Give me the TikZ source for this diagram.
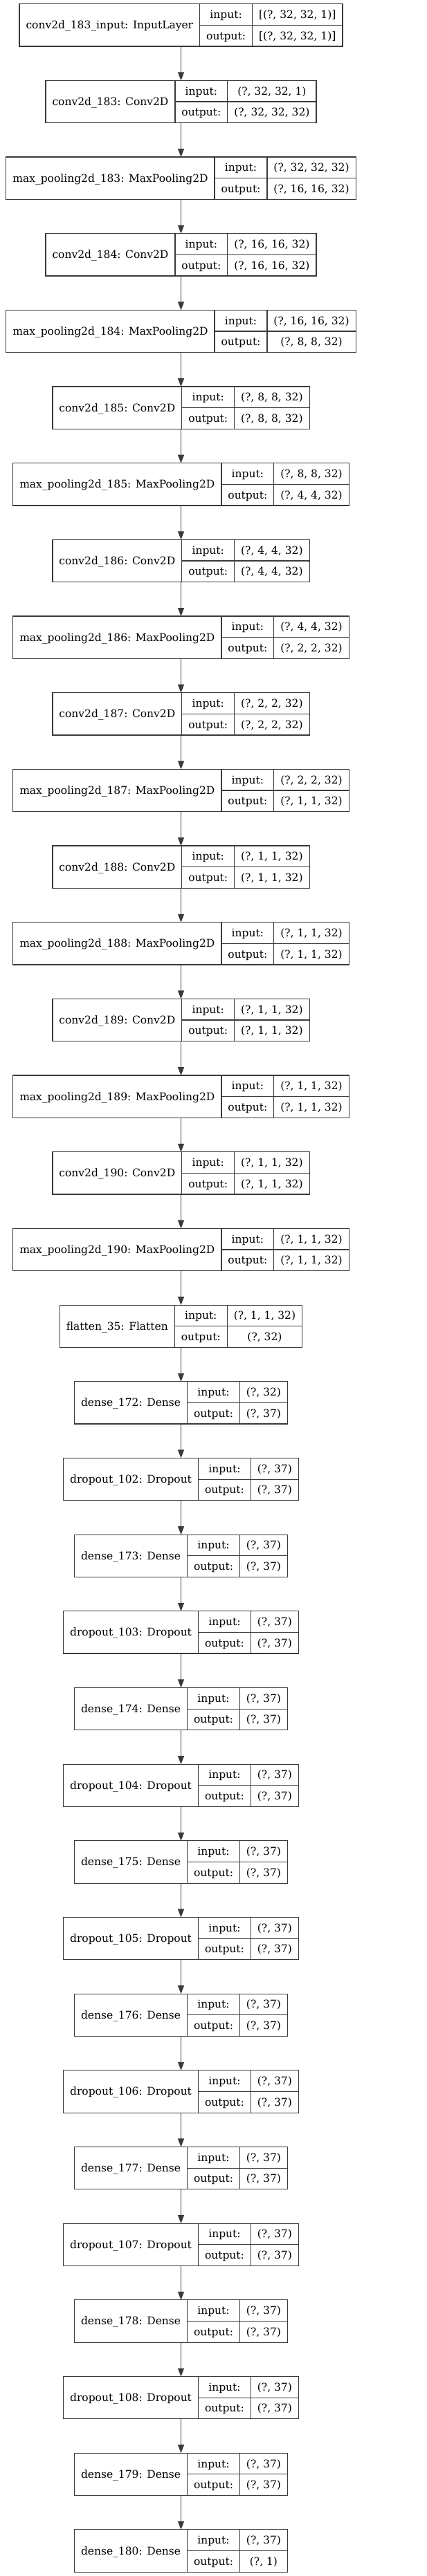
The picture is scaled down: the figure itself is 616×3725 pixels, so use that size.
\documentclass[tikz,border=0pt]{standalone}
\usepackage{fontspec}
\setmainfont{DejaVu Serif}
\usetikzlibrary{arrows.meta}

\definecolor{edgegray}{HTML}{3A3A3A}
\newcommand\lfont{\fontsize{15.5}{18}\selectfont}
\newlength\wlbl \newlength\wio \newlength\wval \newlength\wtmp \newlength\wmeas
\newlength\padx \setlength\padx{9.5pt}

% width of a text in the label font, set globally into a length
\newcommand\measure[2]{%
    \pgfinterruptpicture\settowidth\wmeas{\lfont #2}\global#1=\wmeas\endpgfinterruptpicture}

\tikzset{
    cell/.style={draw=edgegray, line width=1.2pt, inner sep=0pt, outer sep=0pt,
        anchor=north west, minimum height=30.65pt, font=\lfont,
        text height=14pt, text depth=3pt},
    lblcell/.style={cell, minimum height=61.3pt},
    link/.style={draw=edgegray, line width=1.2pt, -{Triangle[length=12pt,width=9pt]}}
}

% one layer record: name, top y, label, input shape, output shape
\newcommand\layer[5]{%
    \measure\wlbl{#3}\addtolength\wlbl{2\padx}%
    \measure\wio{output:}\addtolength\wio{2\padx}%
    \measure\wval{#4}\measure\wtmp{#5}%
    \ifdim\wtmp>\wval \wval=\wtmp\fi
    \addtolength\wval{2\padx}%
    \pgfmathsetmacro\xl{261.5-(\wlbl+\wio+\wval)/2}%
    \node[lblcell, minimum width=\wlbl] (#1) at (\xl,#2) {#3};
    \node[cell, minimum width=\wio] (#1-i) at (#1.north east) {input:};
    \node[cell, minimum width=\wio] (#1-o) at (#1-i.south west) {output:};
    \node[cell, minimum width=\wval] (#1-iv) at (#1-i.north east) {#4};
    \node[cell, minimum width=\wval] (#1-ov) at (#1-iv.south west) {#5};
    \coordinate (#1-top) at (261.5,#2);
    \coordinate (#1-bot) at (261.5,#2+61.3);
}

\begin{document}
\begin{tikzpicture}[x=1pt, y=-1pt]
    \useasboundingbox (0,0) rectangle (616,3725);
    \foreach \nm/\lbl/\ishape/\oshape [count=\k from 0] in {
        inp/{conv2d\_183\_input: InputLayer}/{[(?, 32, 32, 1)]}/{[(?, 32, 32, 1)]},
        c183/{conv2d\_183: Conv2D}/{(?, 32, 32, 1)}/{(?, 32, 32, 32)},
        p183/{max\_pooling2d\_183: MaxPooling2D}/{(?, 32, 32, 32)}/{(?, 16, 16, 32)},
        c184/{conv2d\_184: Conv2D}/{(?, 16, 16, 32)}/{(?, 16, 16, 32)},
        p184/{max\_pooling2d\_184: MaxPooling2D}/{(?, 16, 16, 32)}/{(?, 8, 8, 32)},
        c185/{conv2d\_185: Conv2D}/{(?, 8, 8, 32)}/{(?, 8, 8, 32)},
        p185/{max\_pooling2d\_185: MaxPooling2D}/{(?, 8, 8, 32)}/{(?, 4, 4, 32)},
        c186/{conv2d\_186: Conv2D}/{(?, 4, 4, 32)}/{(?, 4, 4, 32)},
        p186/{max\_pooling2d\_186: MaxPooling2D}/{(?, 4, 4, 32)}/{(?, 2, 2, 32)},
        c187/{conv2d\_187: Conv2D}/{(?, 2, 2, 32)}/{(?, 2, 2, 32)},
        p187/{max\_pooling2d\_187: MaxPooling2D}/{(?, 2, 2, 32)}/{(?, 1, 1, 32)},
        c188/{conv2d\_188: Conv2D}/{(?, 1, 1, 32)}/{(?, 1, 1, 32)},
        p188/{max\_pooling2d\_188: MaxPooling2D}/{(?, 1, 1, 32)}/{(?, 1, 1, 32)},
        c189/{conv2d\_189: Conv2D}/{(?, 1, 1, 32)}/{(?, 1, 1, 32)},
        p189/{max\_pooling2d\_189: MaxPooling2D}/{(?, 1, 1, 32)}/{(?, 1, 1, 32)},
        c190/{conv2d\_190: Conv2D}/{(?, 1, 1, 32)}/{(?, 1, 1, 32)},
        p190/{max\_pooling2d\_190: MaxPooling2D}/{(?, 1, 1, 32)}/{(?, 1, 1, 32)},
        flat/{flatten\_35: Flatten}/{(?, 1, 1, 32)}/{(?, 32)},
        d172/{dense\_172: Dense}/{(?, 32)}/{(?, 37)},
        r102/{dropout\_102: Dropout}/{(?, 37)}/{(?, 37)},
        d173/{dense\_173: Dense}/{(?, 37)}/{(?, 37)},
        r103/{dropout\_103: Dropout}/{(?, 37)}/{(?, 37)},
        d174/{dense\_174: Dense}/{(?, 37)}/{(?, 37)},
        r104/{dropout\_104: Dropout}/{(?, 37)}/{(?, 37)},
        d175/{dense\_175: Dense}/{(?, 37)}/{(?, 37)},
        r105/{dropout\_105: Dropout}/{(?, 37)}/{(?, 37)},
        d176/{dense\_176: Dense}/{(?, 37)}/{(?, 37)},
        r106/{dropout\_106: Dropout}/{(?, 37)}/{(?, 37)},
        d177/{dense\_177: Dense}/{(?, 37)}/{(?, 37)},
        r107/{dropout\_107: Dropout}/{(?, 37)}/{(?, 37)},
        d178/{dense\_178: Dense}/{(?, 37)}/{(?, 37)},
        r108/{dropout\_108: Dropout}/{(?, 37)}/{(?, 37)},
        d179/{dense\_179: Dense}/{(?, 37)}/{(?, 37)},
        d180/{dense\_180: Dense}/{(?, 37)}/{(?, 1)}}
    {
        \pgfmathsetmacro\y{5.7+110.67*\k}
        \layer{\nm}{\y}{\lbl}{\ishape}{\oshape}
    }
    \foreach \n [remember=\n as \p (initially inp)] in {c183,p183,c184,p184,c185,p185,
        c186,p186,c187,p187,c188,p188,c189,p189,c190,p190,flat,d172,r102,d173,r103,
        d174,r104,d175,r105,d176,r106,d177,r107,d178,r108,d179,d180}
    {
        \draw[link] (\p-bot) -- (\n-top);
    }
\end{tikzpicture}
\end{document}
